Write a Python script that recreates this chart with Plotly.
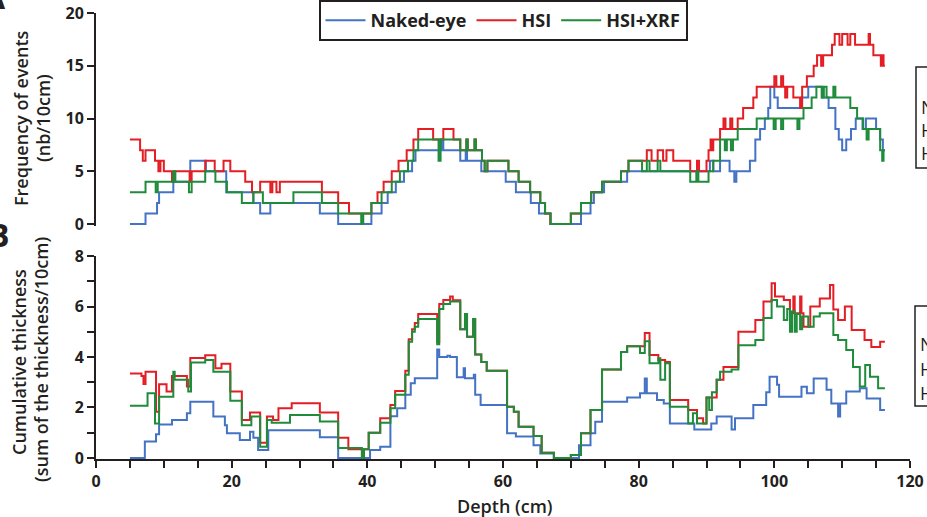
import plotly.graph_objects as go

# Each series is a running-window step curve: (depth where the step starts, value held to the next step)
# Panel A - frequency of events (nb/10cm)
a_naked = [(5.0, 0), (7.3, 1), (9.0, 2), (9.3, 3), (11.4, 4), (13.9, 6), (16.2, 5), (19.2, 3), (23.2, 2),
           (24.2, 1), (25.7, 2), (33.0, 1), (35.7, 0), (40.6, 1), (42.1, 2), (43.0, 3), (44.2, 4), (45.4, 5),
           (46.6, 6), (47.1, 7), (50.9, 8), (51.2, 7), (53.7, 6), (54.5, 7), (54.7, 6), (56.8, 5), (60.4, 4),
           (61.9, 3), (64.1, 2), (65.3, 1), (67.0, 0), (71.5, 1), (72.9, 2), (73.4, 3), (74.9, 4), (78.3, 5),
           (90.5, 6), (91.0, 5), (92.0, 6), (93.4, 5), (94.1, 4), (94.4, 5), (96.4, 6), (97.2, 8), (97.9, 9),
           (98.6, 10), (99.1, 11), (99.4, 13), (100.0, 12), (100.5, 11), (104.0, 12), (105.0, 13), (107.0, 12),
           (108.0, 11), (109.0, 9), (109.5, 8), (110.0, 7), (110.6, 8), (111.3, 9), (112.0, 10), (113.0, 9),
           (113.5, 10), (115.0, 9), (115.6, 8), (116.0, 7), (116.3, 7)]
a_hsi = [(5.0, 8), (6.5, 7), (6.9, 6), (7.3, 7), (8.7, 6), (9.2, 5), (9.5, 6), (10.0, 5), (11.2, 4), (11.5, 5),
         (13.8, 4), (14.1, 5), (16.1, 6), (17.5, 5), (18.8, 6), (19.8, 5), (22.0, 4), (23.0, 3), (24.2, 4),
         (25.7, 3), (26.0, 4), (26.6, 3), (27.1, 4), (33.3, 3), (35.7, 2), (37.3, 1), (40.6, 2), (41.5, 3),
         (42.4, 4), (43.6, 5), (44.6, 6), (45.8, 7), (46.8, 8), (47.5, 9), (49.7, 8), (51.2, 9), (52.7, 8),
         (53.7, 7), (54.6, 8), (54.8, 7), (55.8, 8), (56.0, 7), (56.9, 6), (57.3, 5), (57.7, 6), (60.8, 5),
         (62.3, 4), (64.0, 3), (65.5, 2), (66.2, 1), (67.0, 0), (70.0, 1), (71.5, 2), (73.0, 3), (74.6, 4),
         (77.4, 5), (78.5, 6), (81.2, 7), (81.9, 6), (82.8, 7), (83.6, 6), (84.1, 7), (85.1, 6), (87.6, 5),
         (88.6, 6), (88.9, 5), (90.0, 6), (90.3, 7), (90.6, 8), (90.8, 7), (91.0, 8), (92.0, 9), (92.5, 10),
         (92.8, 9), (93.5, 10), (93.8, 9), (94.6, 10), (95.4, 11), (96.9, 12), (97.4, 13), (100.0, 14),
         (100.3, 13), (101.0, 14), (101.3, 13), (101.6, 12), (101.9, 13), (102.8, 12), (103.8, 11), (104.1, 13),
         (104.8, 14), (105.8, 15), (106.3, 16), (106.9, 15), (107.2, 16), (108.5, 17), (108.9, 18), (109.6, 17),
         (110.0, 18), (110.8, 17), (111.2, 18), (111.9, 17), (113.9, 18), (114.1, 17), (114.6, 16), (115.7, 15),
         (115.9, 16), (116.1, 15), (116.3, 15)]
a_hsi_xrf = [(5.0, 3), (7.3, 4), (8.8, 3), (9.1, 4), (11.4, 5), (11.7, 4), (13.7, 3), (14.1, 4), (16.1, 5),
             (17.6, 4), (19.3, 3), (21.5, 2), (23.2, 3), (24.6, 2), (29.1, 3), (33.3, 2), (35.7, 1), (39.1, 0),
             (39.4, 1), (40.6, 2), (42.1, 3), (43.6, 4), (44.8, 5), (46.0, 6), (46.8, 7), (47.5, 8), (50.5, 6),
             (50.8, 8), (53.7, 7), (54.6, 8), (54.8, 7), (55.8, 8), (56.0, 7), (56.9, 6), (57.3, 5), (57.7, 6),
             (60.8, 5), (62.3, 4), (64.0, 3), (65.5, 2), (66.2, 1), (67.0, 0), (70.0, 1), (71.5, 2), (73.0, 3),
             (74.6, 4), (77.4, 5), (78.5, 6), (80.5, 5), (81.2, 6), (81.6, 5), (82.8, 6), (83.2, 5), (87.6, 4),
             (88.5, 5), (88.8, 4), (90.3, 5), (91.0, 6), (92.0, 8), (92.7, 7), (93.0, 8), (93.6, 7), (93.9, 8),
             (94.6, 9), (97.4, 10), (99.9, 9), (100.2, 10), (101.0, 9), (101.3, 10), (103.4, 9), (103.7, 10),
             (104.3, 11), (105.5, 12), (106.2, 13), (107.0, 12), (107.3, 13), (107.7, 12), (108.7, 13),
             (109.0, 12), (111.2, 11), (112.2, 10), (113.1, 9), (113.6, 8), (113.9, 9), (115.6, 7), (115.9, 6),
             (116.1, 7), (116.3, 7)]

# Panel B - cumulative thickness (sum of the thickness/10cm)
b_naked = [(5.0, 0), (7.2, 0.65), (8.85, 0.94), (9.3, 1.33), (11.2, 1.5), (13.4, 1.77), (13.9, 2.23), (17.3, 1.64),
           (19.0, 1.3), (19.3, 0.98), (21.2, 0.71), (22.7, 1.04), (23.2, 0.8), (23.9, 0.32), (25.4, 1.1),
           (33.0, 0.82), (35.7, 0), (40.4, 0.32), (41.9, 0.45), (43.4, 1.65), (44.4, 1.97), (45.6, 2.5),
           (46.4, 2.96), (47.0, 3.16), (50.3, 4.3), (50.6, 4.0), (51.8, 4.05), (52.2, 4.0), (53.2, 3.2),
           (54.2, 3.55), (54.4, 3.16), (55.7, 3.3), (55.9, 2.5), (56.7, 2.1), (60.6, 0.98), (61.9, 0.85),
           (64.5, 0.5), (65.5, 0.18), (67.5, 0), (71.2, 0.5), (72.9, 0.98), (73.6, 1.44), (74.6, 2.23),
           (78.3, 2.4), (80.2, 2.56), (80.9, 3.15), (81.2, 2.56), (82.7, 2.3), (83.7, 2.16), (84.6, 1.37),
           (88.2, 1.13), (90.7, 1.37), (91.5, 1.64), (93.7, 1.13), (94.2, 1.57), (96.9, 2.1), (98.8, 2.6),
           (99.3, 3.22), (100.4, 2.9), (100.7, 2.43), (104.0, 2.82), (104.8, 2.56), (105.8, 3.15), (107.7, 2.7),
           (108.4, 2.16), (109.4, 1.64), (109.7, 2.16), (110.6, 2.63), (112.6, 2.76), (113.6, 2.36),
           (115.6, 1.9), (116.3, 1.9)]
b_hsi = [(5.0, 3.35), (6.7, 3.25), (7.0, 2.93), (7.3, 3.42), (8.85, 1.83), (9.3, 2.92), (10.4, 2.63), (11.2, 3.25),
         (13.4, 2.83), (13.9, 3.96), (16.1, 4.07), (17.6, 3.55), (18.5, 3.73), (19.8, 2.63), (21.5, 1.5),
         (22.7, 1.8), (24.2, 0.6), (25.2, 1.64), (26.1, 1.5), (26.9, 1.97), (28.85, 2.17), (33.0, 1.8),
         (35.7, 0.8), (37.2, 0.35), (39.2, 0), (39.5, 0.35), (40.2, 1.0), (41.9, 1.57), (43.4, 2.1), (44.1, 2.65),
         (45.6, 3.46), (46.1, 4.7), (46.6, 5.1), (47.0, 5.35), (47.5, 5.7), (50.3, 4.6), (50.6, 6.1),
         (51.2, 6.26), (52.2, 6.4), (52.6, 6.25), (53.7, 5.1), (54.4, 5.7), (54.7, 4.8), (55.6, 5.5),
         (55.9, 4.1), (56.8, 3.8), (57.6, 3.46), (60.6, 2.03), (61.6, 1.83), (62.3, 1.24), (64.5, 0.87),
         (65.7, 0.21), (67.5, 0), (70.0, 0.12), (71.5, 0.98), (72.9, 1.9), (74.6, 3.5), (77.4, 4.2),
         (78.3, 4.43), (80.9, 4.95), (81.6, 4.08), (82.9, 3.88), (83.9, 3.8), (84.6, 2.3), (87.3, 1.9),
         (88.6, 1.57), (89.5, 1.37), (90.0, 2.4), (91.5, 3.1), (92.5, 3.6), (94.7, 5.0), (97.2, 5.47),
         (98.4, 6.2), (99.6, 6.92), (100.1, 6.4), (101.4, 6.26), (102.3, 5.73), (102.8, 6.4), (103.0, 5.73),
         (103.8, 6.4), (104.0, 5.73), (104.3, 5.2), (105.3, 6.0), (106.7, 6.32), (108.2, 6.85), (108.7, 5.88),
         (109.4, 5.47), (110.4, 6.0), (111.4, 5.07), (113.3, 4.67), (114.3, 4.4), (115.6, 4.6), (116.3, 4.6)]
b_hsi_xrf = [(5.0, 2.07), (7.6, 2.56), (8.7, 1.37), (9.3, 2.43), (11.4, 3.42), (11.6, 3.1), (13.6, 2.63),
             (14.0, 3.78), (16.1, 3.88), (17.3, 3.42), (19.8, 2.27), (21.5, 1.3), (22.9, 1.64), (24.2, 0.45),
             (25.2, 1.5), (25.9, 1.4), (28.6, 1.7), (33.0, 1.45), (35.7, 0.4), (39.2, 0), (39.5, 0.35), (40.2, 1.0),
             (41.9, 1.4), (43.4, 1.97), (44.1, 2.5), (45.6, 3.3), (46.1, 4.6), (46.6, 5.0), (47.0, 5.2),
             (47.5, 5.5), (50.3, 4.5), (50.6, 5.9), (51.2, 6.1), (52.2, 6.2), (53.7, 5.1), (54.4, 5.7),
             (54.7, 4.8), (55.6, 5.5), (55.9, 4.1), (56.8, 3.8), (57.6, 3.46), (60.6, 2.03), (61.6, 1.83),
             (62.3, 1.24), (64.5, 0.87), (65.7, 0.21), (67.5, 0), (70.0, 0.12), (71.5, 0.98), (72.9, 1.9),
             (74.6, 3.5), (77.4, 4.2), (78.3, 4.43), (80.2, 4.16), (80.9, 4.62), (81.6, 3.75), (82.9, 3.95),
             (83.2, 3.1), (83.9, 3.75), (84.6, 2.03), (87.3, 1.37), (88.0, 1.77), (88.6, 1.37), (90.0, 2.4),
             (90.4, 1.9), (90.8, 2.6), (91.5, 3.1), (92.0, 3.42), (93.7, 3.5), (94.7, 4.47), (97.2, 4.67),
             (98.4, 5.54), (99.6, 6.26), (100.4, 6.0), (101.4, 5.47), (101.9, 5.9), (102.3, 5.0), (102.6, 5.8),
             (103.0, 5.0), (103.3, 5.7), (103.8, 5.1), (104.1, 5.6), (105.0, 5.2), (105.8, 5.6), (106.7, 5.73),
             (108.7, 4.87), (109.4, 4.67), (110.6, 4.28), (111.6, 3.6), (112.6, 2.83), (113.4, 3.68),
             (114.1, 3.22), (115.3, 2.76), (116.3, 2.76)]

series_names = ['Naked-eye', 'HSI', 'HSI+XRF']
colors = ['#4472C4', '#E31E24', '#1E8C3A']
INK = '#231F20'
FONT = 'Open Sans'

W, H = 927, 517
L, R, T, B = 96, 17, 13, 58


def px_x(px):
    """pixel column -> paper x"""
    return (px - L) / (W - L - R)


def px_y(py):
    """pixel row -> paper y"""
    return (H - B - py) / (H - T - B)


fig = go.Figure()
for steps, name, col in zip([a_naked, a_hsi, a_hsi_xrf], series_names, colors):
    fig.add_trace(go.Scatter(x=[d for d, v in steps], y=[v for d, v in steps], name=name, mode='lines',
                             line=dict(color=col, width=2, shape='hv'), xaxis='x', yaxis='y'))
for steps, name, col in zip([b_naked, b_hsi, b_hsi_xrf], series_names, colors):
    fig.add_trace(go.Scatter(x=[d for d, v in steps], y=[v for d, v in steps], name=name, mode='lines',
                             line=dict(color=col, width=2, shape='hv'), xaxis='x2', yaxis='y2',
                             showlegend=False))

tickfont = dict(family=FONT, size=16, color=INK, weight='bold')
axis_common = dict(showgrid=False, zeroline=False, showline=True, linewidth=2, linecolor=INK,
                   ticks='outside', ticklen=7, tickwidth=2, tickcolor=INK, tickfont=tickfont)

fig.update_layout(
    width=W, height=H,
    margin=dict(l=L, r=R, t=T, b=B, autoexpand=False),
    paper_bgcolor='white', plot_bgcolor='white',
    font=dict(family=FONT, color=INK),
    xaxis=dict(domain=[0, 1], range=[0, 120], visible=False, anchor='y'),
    yaxis=dict(domain=[px_y(225.6), 1], range=[-0.15, 20], tickvals=[0, 5, 10, 15, 20], anchor='x',
               **axis_common),
    xaxis2=dict(domain=[0, 1], range=[0, 120], dtick=20, tick0=0, anchor='y2',
                minor=dict(dtick=5, ticks='outside', ticklen=7, tickwidth=2, tickcolor=INK), **axis_common),
    yaxis2=dict(domain=[0, px_y(256)], range=[-0.04, 8], dtick=2, tick0=0, anchor='x2',
                minor=dict(dtick=1, ticks='outside', ticklen=7, tickwidth=2, tickcolor=INK), **axis_common),
    legend=dict(orientation='h', x=0.5, xanchor='center', y=px_y(0), yanchor='top',
                bordercolor=INK, borderwidth=2, bgcolor='white', itemwidth=40,
                font=dict(family=FONT, size=18, color=INK, weight='bold')),
    showlegend=True,
)

title_font = dict(family=FONT, size=18, color=INK, weight=600)
labels = [
    ('Frequency of events', 21, 118),
    ('(nb/10cm)', 43, 118),
    ('Cumulative thickness', 19, 362),
    ('(sum of the thickness/10cm)', 41, 360),
]
for text, cx, cy in labels:
    fig.add_annotation(text=text, x=px_x(cx), y=px_y(cy), xref='paper', yref='paper', showarrow=False,
                       textangle=-90, xanchor='center', yanchor='middle', font=title_font)
fig.add_annotation(text='Depth (cm)', x=px_x(505), y=px_y(506), xref='paper', yref='paper', showarrow=False,
                   xanchor='center', yanchor='middle', font=title_font)

# panel letters, partly cut by the page edge
letter_font = dict(family=FONT, size=32, color=INK, weight='bold')
fig.add_annotation(text='A', x=px_x(8), y=px_y(-4), xref='paper', yref='paper', showarrow=False,
                   xanchor='right', yanchor='middle', font=letter_font)
fig.add_annotation(text='B', x=px_x(12), y=px_y(234), xref='paper', yref='paper', showarrow=False,
                   xanchor='right', yanchor='middle', font=letter_font)

# side boxes cut by the right edge
side_font = dict(family=FONT, size=18, color=INK)
for (left, top, bottom, rows) in [(916, 67, 168, [106.5, 130, 153.5]), (915, 306, 406, [343.5, 368.5, 393])]:
    fig.add_shape(type='rect', xref='paper', yref='paper', x0=px_x(left), x1=px_x(left + 60),
                  y0=px_y(bottom), y1=px_y(top), line=dict(color=INK, width=1.5), fillcolor='rgba(0,0,0,0)')
    for text, cy in zip(series_names, rows):
        fig.add_annotation(text=text, x=px_x(left + 3), y=px_y(cy), xref='paper', yref='paper',
                           showarrow=False, xanchor='left', yanchor='middle', font=side_font)

# page has its default 8px body margin; drop it so the figure sits at the window corner
fig.write_html("out.html", config={'displayModeBar': False},
               post_script="document.body.style.margin='0';document.body.style.overflow='hidden';")
